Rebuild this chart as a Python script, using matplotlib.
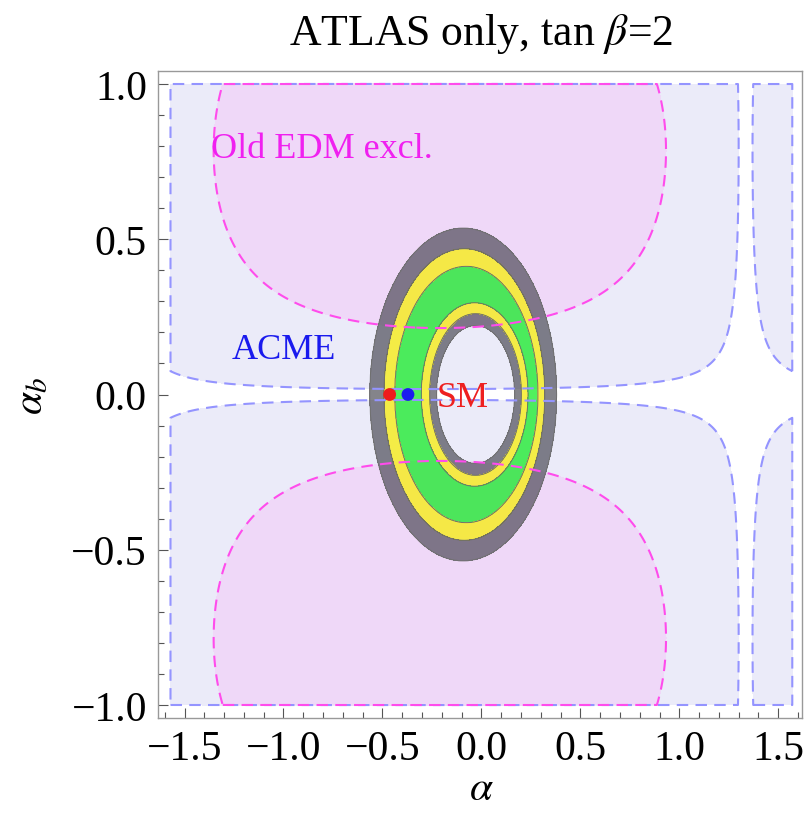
import numpy as np
import matplotlib
matplotlib.use("Agg")
from matplotlib import pyplot as plt

plt.rcParams['font.family'] = ['Liberation Serif', 'DejaVu Serif']
plt.rcParams['mathtext.fontset'] = 'stix'

# --- ATLAS fit: ring boundaries (inner hole -> outer edge), ellipses in (alpha, alpha_b)
ring_cx = np.array([-0.0295, -0.0296, -0.0339, -0.0761, -0.0862, -0.0918])
ring_ax = np.array([0.198, 0.2318, 0.2695, 0.3622, 0.4062, 0.4710])
ring_ay = np.array([0.2227, 0.2604, 0.2953, 0.4132, 0.4697, 0.5353])
ring_colors = [(0.20, 0.20, 0.24, 0.60),   # 3 sigma
               (0.97, 0.93, 0.08, 0.78),   # 2 sigma
               (0.05, 0.92, 0.12, 0.72),   # 1 sigma
               (0.97, 0.93, 0.08, 0.78),
               (0.20, 0.20, 0.24, 0.60)]

# --- EDM constraints: |sin(2 alpha_b)/2 * f(alpha)| above cut is excluded
acme_alpha0 = 1.335
acme_cut = 0.0175
edm_alpha0 = -0.21
edm_cut = 0.2075

# --- marked points
pts_alpha = [-0.4636, -0.371]
pts_alphab = [0.0, 0.0]
pts_colors = ['#ee1c1c', '#1c1cee']

xticks = [-1.5, -1.0, -0.5, 0.0, 0.5, 1.0, 1.5]
yticks = [-1.0, -0.5, 0.0, 0.5, 1.0]


def fmt(v):
    return f'{v:.1f}'.replace('-', '\u2212')


# grid, padded one step past the domain so region edges get outlined
a_in = np.linspace(-np.pi / 2, np.pi / 2, 1000)
b_in = np.linspace(-1.0, 1.0, 1100)
a = np.concatenate([[a_in[0] - 1e-3], a_in, [a_in[-1] + 1e-3]])
b = np.concatenate([[b_in[0] - 1e-3], b_in, [b_in[-1] + 1e-3]])
A, B = np.meshgrid(a, b)
inside = (np.abs(A) <= np.pi / 2 + 1e-9) & (np.abs(B) <= 1.0 + 1e-9)

acme = np.abs(np.sin(2 * B) / 2 * np.sin(acme_alpha0 - A))
acme[~inside] = -1.0
edm = np.abs(np.sin(2 * B) / 2 * np.cos(A - edm_alpha0))
edm[~inside] = -1.0

# continuous ring index field
R = np.stack([np.sqrt(((A - cx) / ax_) ** 2 + (B / ay) ** 2)
              for cx, ax_, ay in zip(ring_cx, ring_ax, ring_ay)])
t = 5 + (R[-1] - 1)
for k in range(len(ring_cx) - 1):
    m = (R[k] >= 1) & (R[k + 1] < 1)
    t[m] = k + ((R[k] - 1) / (R[k] - R[k + 1]))[m]
m = R[0] < 1
t[m] = (R[0] - 1)[m]

fig = plt.figure(figsize=(8.05, 8.2), dpi=100)
ax = fig.add_axes([158 / 805, 1 - 719 / 820, 644 / 805, 647 / 820])

dash = (0, (5.5, 3.5))
ax.contourf(A, B, acme, levels=[acme_cut, 10], colors=['#ebebf9'])
ax.contourf(A, B, edm, levels=[edm_cut, 10], colors=['#efd8f8'])
ax.contourf(A, B, t, levels=[0, 1, 2, 3, 4, 5], colors=ring_colors)
ax.contour(A, B, t, levels=[0, 1, 2, 3, 4, 5], colors='#707070', linewidths=0.7)
ax.contour(A, B, acme, levels=[acme_cut], colors='#9494ff', linewidths=1.5,
           linestyles=[dash])
ax.contour(A, B, edm, levels=[edm_cut], colors='#ff4cec', linewidths=1.5,
           linestyles=[dash])

ax.scatter(pts_alpha, pts_alphab, s=85, c=pts_colors, zorder=5, linewidths=0)

ax.text(-1.368, 0.765, 'Old EDM excl.', color='#f020f0', fontsize=26,
        ha='left', va='baseline')
ax.text(-1.264, 0.1185, 'ACME', color='#1a1aee', fontsize=26,
        ha='left', va='baseline')
ax.text(-0.2275, -0.0357, 'SM', color='#ee2020', fontsize=26,
        ha='left', va='baseline')

ax.set_xlim(-1.634, 1.620)
ax.set_ylim(-1.042, 1.042)
ax.set_xticks(xticks)
ax.set_xticklabels([fmt(v) for v in xticks])
ax.set_yticks(yticks)
ax.set_yticklabels([fmt(v) for v in yticks])
ax.set_xticks(np.arange(-1.6, 1.61, 0.1), minor=True)
ax.set_yticks(np.arange(-1.0, 1.01, 0.1), minor=True)
ax.tick_params(which='both', direction='in', top=False, right=False,
               color='#555555', width=0.8, labelsize=30, pad=8)
ax.tick_params(which='major', length=7)
ax.tick_params(which='minor', length=4)
for s in ax.spines.values():
    s.set_color('#999999')
    s.set_linewidth(1.0)

fig.text(481 / 805, 1 - 45 / 820, r'ATLAS only, tan $\beta$=2', ha='center',
         va='baseline', fontsize=31.5)
fig.text(481 / 805, 1 - 790 / 820, r'$\alpha$', ha='center', va='center',
         fontsize=30)
fig.text(32 / 805, 1 - 396 / 820, r'$\alpha_b$', ha='center', va='center',
         rotation=90, fontsize=30)

fig.savefig('out.png', dpi=100)
